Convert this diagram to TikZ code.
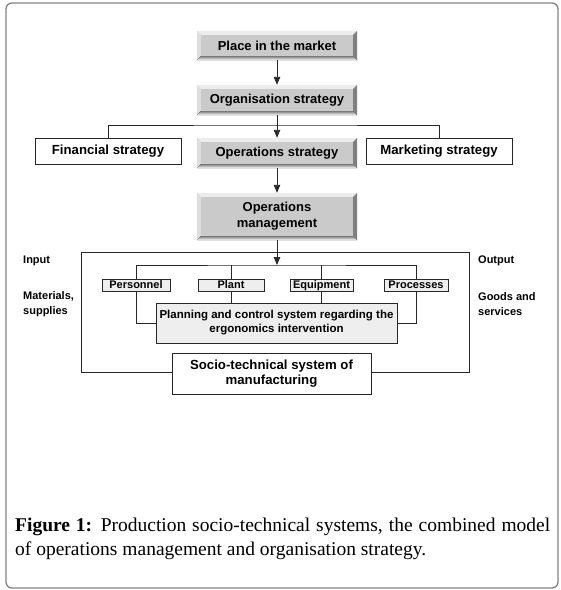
\documentclass[tikz,border=0pt]{standalone}
\usepackage{fontspec}
\setmainfont{Liberation Sans}
\newfontfamily\capfont{Liberation Serif}
\usetikzlibrary{arrows.meta,calc}
\definecolor{face}{RGB}{202,202,202}
\definecolor{hilite}{RGB}{236,236,236}
\definecolor{hilite2}{RGB}{222,222,222}
\definecolor{shade}{RGB}{150,150,150}
\definecolor{shade2}{RGB}{128,128,128}
\definecolor{lightbox}{RGB}{238,238,238}
\definecolor{linecol}{RGB}{40,40,40}
\definecolor{framecol}{RGB}{130,130,130}
\begin{document}
\begin{tikzpicture}[x=1pt,y=-1pt,
  bevelbox/.style={fill=face, inner sep=0pt, minimum width=160pt, align=center, font=\bfseries\fontsize{13}{16}\selectfont},
  whitebox/.style={draw=linecol, line width=0.9pt, fill=white, inner sep=0pt, align=center, font=\bfseries\fontsize{13.2}{15.5}\selectfont},
  smallbox/.style={draw=linecol, line width=0.9pt, fill=lightbox, inner sep=0pt, minimum height=12pt, text height=8pt, text depth=2.2pt, font=\bfseries\fontsize{11}{12}\selectfont},
  planbox/.style={draw=linecol, line width=0.9pt, fill=lightbox, inner sep=0pt, align=center, font=\bfseries\fontsize{11.5}{14}\selectfont},
  sidelabel/.style={inner sep=0pt, anchor=west, align=left, font=\bfseries\fontsize{11}{14.5}\selectfont},
  conn/.style={draw=linecol, line width=0.9pt},
  arr/.style={draw=linecol, line width=0.9pt, -{Triangle[length=8pt,width=6.5pt]}}
]
\useasboundingbox (0,0) rectangle (561,590);
\draw[framecol, line width=1.3pt, rounded corners=6pt] (6,3) rectangle (558,588);

% bevel boxes
\node[bevelbox, minimum height=29pt] (place) at (277,45.5) {Place in the market};
\node[bevelbox, minimum height=30pt] (org) at (277,100) {Organisation strategy};
\node[bevelbox, minimum height=30pt] (ops) at (277,153) {Operations strategy};
\node[bevelbox, minimum height=47pt] (mgmt) at (277,216.5) {Operations\\management};

\foreach \n in {place,org,ops,mgmt}{
  \fill[hilite] (\n.north west) -- (\n.north east) -- ([shift={(-4,4)}]\n.north east) -- ([shift={(4,4)}]\n.north west) -- cycle;
  \fill[hilite2] (\n.north west) -- ([shift={(4,4)}]\n.north west) -- ([shift={(4,-4)}]\n.south west) -- (\n.south west) -- cycle;
  \fill[shade] (\n.south west) -- (\n.south east) -- ([shift={(-4,-4)}]\n.south east) -- ([shift={(4,-4)}]\n.south west) -- cycle;
  \fill[shade2] (\n.north east) -- (\n.south east) -- ([shift={(-4,-4)}]\n.south east) -- ([shift={(-4,4)}]\n.north east) -- cycle;
}

\node[whitebox, minimum width=146pt, minimum height=26pt] (fin) at (108,151) {Financial strategy};
\node[whitebox, minimum width=146pt, minimum height=26pt] (mkt) at (439,151) {Marketing strategy};

% top connectors
\coordinate (split) at (277,125);
\draw[arr] (place.south) -- (org.north);
\draw[conn] (org.south) -- (split);
\draw[conn] (fin.north) |- (split) -| (mkt.north);
\draw[arr] (split) -- (ops.north);
\draw[arr] (ops.south) -- (mgmt.north);

% system box
\node[whitebox, minimum width=199pt, minimum height=41pt] (socio) at (271.5,373.5) {Socio-technical system of\\manufacturing};
\coordinate (bl) at (81,372);
\coordinate (tl) at (81,252);
\coordinate (tr) at (469,252);
\coordinate (br) at (469,372);
\draw[conn] (socio.west |- bl) -- (bl) -- (tl) -- (tr) -- (br) -- (socio.east |- br);

% inner elements
\node[smallbox, minimum width=68pt] (pers) at (136,285.5) {Personnel};
\node[smallbox, minimum width=66pt] (plant) at (231,285.5) {Plant};
\node[smallbox, minimum width=63pt] (equip) at (321.5,285.5) {Equipment};
\node[smallbox, minimum width=64pt] (proc) at (416,285.5) {Processes};
\node[planbox, minimum width=241pt, minimum height=40pt] (plan) at (276.5,323) {Planning and control system regarding the\\ergonomics intervention};

\coordinate (bus) at (277,265);
\draw[arr] (mgmt.south) -- (bus);
\draw[conn] (pers.north) |- (bus) -| (proc.north);
\draw[conn] (plant.north) -- (plant.north |- bus);
\draw[conn] (equip.north) -- (equip.north |- bus);
\draw[conn] (pers.south) |- (plan.west);
\draw[conn] (proc.south) |- (plan.east);
\draw[conn] (plant.south) -- (plant.south |- plan.north);
\draw[conn] (equip.south) -- (equip.south |- plan.north);

% side labels
\node[sidelabel] (inp) at (23,261) {Input};
\node[sidelabel] (mat) at (23,304) {Materials,\\supplies};
\node[sidelabel] (outp) at (478,261) {Output};
\node[sidelabel] (goods) at (478,304) {Goods and\\services};

% caption
\node[anchor=base west, inner sep=0pt, font=\capfont\fontsize{19.5}{24}\selectfont] (cap1) at (15,531)
  {\makebox[535pt][s]{\textbf{Figure 1:} Production socio-technical systems, the combined model}};
\node[anchor=base west, inner sep=0pt, font=\capfont\fontsize{19.5}{24}\selectfont] (cap2) at (15,555)
  {of operations management and organisation strategy.};
\end{tikzpicture}
\end{document}
